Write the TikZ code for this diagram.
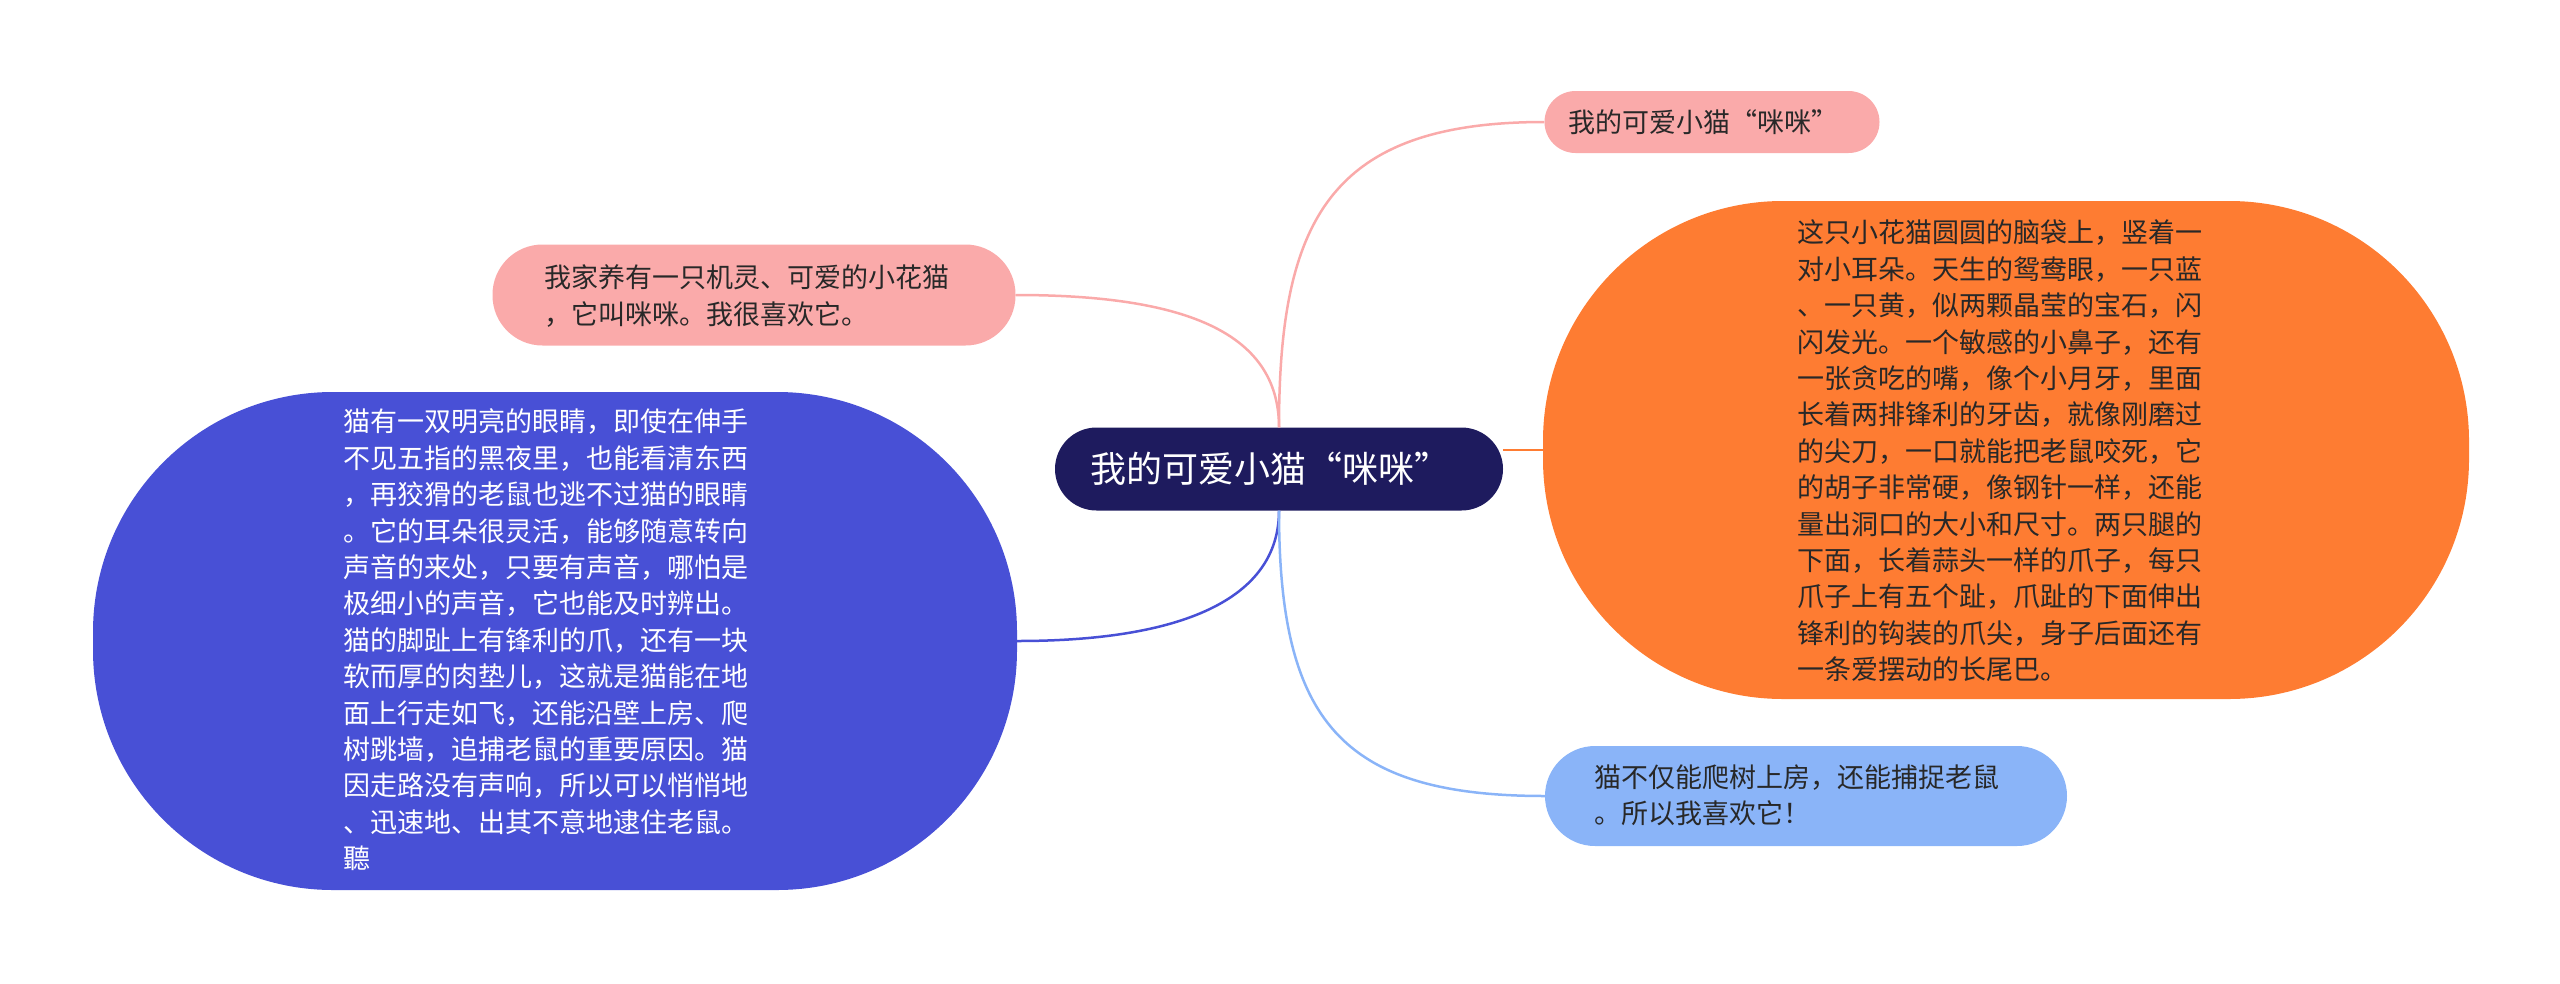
\documentclass[tikz,border=0pt]{standalone}
\usepackage{fontspec}
\setmainfont{Noto Sans CJK SC}
\definecolor{navyc}{RGB}{30,27,94}
\definecolor{pinkc}{RGB}{250,170,170}
\definecolor{orangec}{RGB}{254,124,50}
\definecolor{bluec}{RGB}{72,80,214}
\definecolor{lbluec}{RGB}{138,180,248}
\definecolor{txtdark}{RGB}{40,40,40}
\begin{document}
\begin{tikzpicture}[x=1pt,y=-1pt,
  box/.style={rectangle, inner sep=0pt, draw=none},
  txt/.style={inner sep=0pt, align=left, text=txtdark, font=\fontsize{27}{36.4}\selectfont},
  link/.style={line width=2.5pt}]
\useasboundingbox (0,0) rectangle (2560,983);
% boxes
\node[box, fill=navyc, minimum width=448pt, minimum height=83pt, rounded corners=41.5pt] (c) at (1279,469) {};
\node[box, fill=pinkc, minimum width=335pt, minimum height=62pt, rounded corners=31pt] (p1) at (1712,122) {};
\node[box, fill=pinkc, minimum width=523pt, minimum height=101pt, rounded corners=50pt] (p2) at (754,295) {};
\node[box, fill=bluec, minimum width=924pt, minimum height=498pt, rounded corners=240pt] (b1) at (555,641) {};
\node[box, fill=orangec, minimum width=926pt, minimum height=498pt, rounded corners=240pt] (o1) at (2006,450) {};
\node[box, fill=lbluec, minimum width=522pt, minimum height=100pt, rounded corners=50pt] (l1) at (1806,796) {};
% connectors
\draw[link, pinkc] (c.north) .. controls (1279,330) and (1180,295) .. (p2.east);
\draw[link, pinkc] (c.north) .. controls (1279,220) and (1330,122) .. (p1.west);
\draw[link, orangec] (c.east |- o1.west) -- (o1.west);
\draw[link, bluec] (c.south) .. controls (1279,600) and (1180,641) .. (b1.east);
\draw[link, lbluec] (c.south) .. controls (1279,720) and (1340,796) .. (l1.west);
% texts
\node[txt, text=white, font=\fontsize{36}{40}\selectfont] (ct) at (1270,469) {我的可爱小猫“咪咪”};
\node[txt] (p1t) at (1703,122) {我的可爱小猫“咪咪”};
\node[txt] (p2t) at (747,296) {我家养有一只机灵、可爱的小花猫\\，它叫咪咪。我很喜欢它。};
\node[txt] (l1t) at (1797,795) {猫不仅能爬树上房，还能捕捉老鼠\\。所以我喜欢它！};
\node[txt, text=white] (b1t) at (546,640) {猫有一双明亮的眼睛，即使在伸手\\不见五指的黑夜里，也能看清东西\\，再狡猾的老鼠也逃不过猫的眼睛\\。它的耳朵很灵活，能够随意转向\\声音的来处，只要有声音，哪怕是\\极细小的声音，它也能及时辨出。\\猫的脚趾上有锋利的爪，还有一块\\软而厚的肉垫儿，这就是猫能在地\\面上行走如飞，还能沿壁上房、爬\\树跳墙，追捕老鼠的重要原因。猫\\因走路没有声响，所以可以悄悄地\\、迅速地、出其不意地逮住老鼠。\\聽};
\node[txt] (o1t) at (2000,451) {这只小花猫圆圆的脑袋上，竖着一\\对小耳朵。天生的鸳鸯眼，一只蓝\\、一只黄，似两颗晶莹的宝石，闪\\闪发光。一个敏感的小鼻子，还有\\一张贪吃的嘴，像个小月牙，里面\\长着两排锋利的牙齿，就像刚磨过\\的尖刀，一口就能把老鼠咬死，它\\的胡子非常硬，像钢针一样，还能\\量出洞口的大小和尺寸。两只腿的\\下面，长着蒜头一样的爪子，每只\\爪子上有五个趾，爪趾的下面伸出\\锋利的钩装的爪尖，身子后面还有\\一条爱摆动的长尾巴。};
\end{tikzpicture}
\end{document}
